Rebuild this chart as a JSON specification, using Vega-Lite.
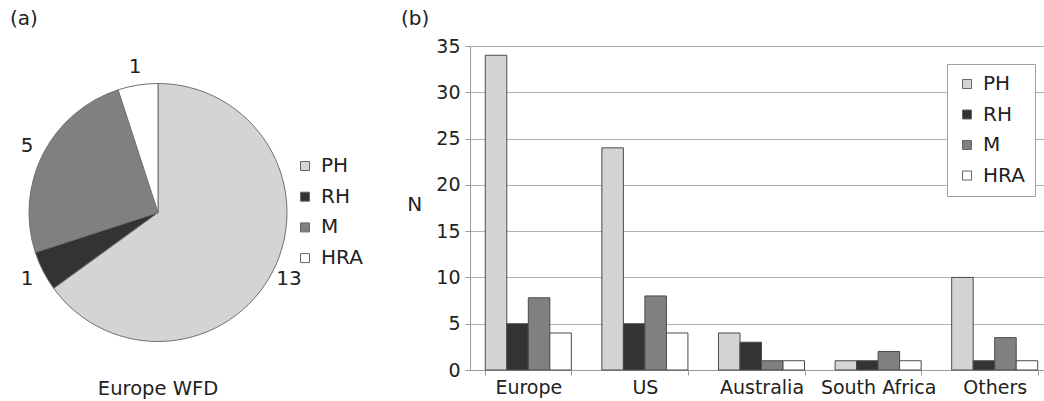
{
  "$schema": "https://vega.github.io/schema/vega-lite/v6.json",
  "padding": {"left": 0, "top": 9, "right": 0, "bottom": 0},
  "background": "white",
  "config": {
    "font": "DejaVu Sans",
    "view": {"stroke": null},
    "title": {"fontSize": 20, "fontWeight": "normal", "color": "#222", "anchor": "start"}
  },
  "datasets": {
    "pie": [
      {"group": "Europe WFD", "type": "PH", "n": 13, "ord": 1},
      {"group": "Europe WFD", "type": "RH", "n": 1, "ord": 2},
      {"group": "Europe WFD", "type": "M", "n": 5, "ord": 3},
      {"group": "Europe WFD", "type": "HRA", "n": 1, "ord": 4}
    ],
    "bars": [
      {"region": "Europe", "type": "PH", "n": 34},
      {"region": "Europe", "type": "RH", "n": 5},
      {"region": "Europe", "type": "M", "n": 7.8},
      {"region": "Europe", "type": "HRA", "n": 4},
      {"region": "US", "type": "PH", "n": 24},
      {"region": "US", "type": "RH", "n": 5},
      {"region": "US", "type": "M", "n": 8},
      {"region": "US", "type": "HRA", "n": 4},
      {"region": "Australia", "type": "PH", "n": 4},
      {"region": "Australia", "type": "RH", "n": 3},
      {"region": "Australia", "type": "M", "n": 1},
      {"region": "Australia", "type": "HRA", "n": 1},
      {"region": "South Africa", "type": "PH", "n": 1},
      {"region": "South Africa", "type": "RH", "n": 1},
      {"region": "South Africa", "type": "M", "n": 2},
      {"region": "South Africa", "type": "HRA", "n": 1},
      {"region": "Others", "type": "PH", "n": 10},
      {"region": "Others", "type": "RH", "n": 1},
      {"region": "Others", "type": "M", "n": 3.5},
      {"region": "Others", "type": "HRA", "n": 1}
    ]
  },
  "spacing": 38,
  "resolve": {"scale": {"color": "independent"}, "legend": {"color": "independent"}},
  "hconcat": [
    {
      "data": {"name": "pie"},
      "title": {"text": "(a)", "dx": 10, "offset": 16.7},
      "facet": {
        "column": {
          "field": "group", "type": "nominal",
          "header": {"title": null, "labelOrient": "bottom", "labelFontSize": 19.5, "labelPadding": 1, "labelColor": "#222", "labelFont": "DejaVu Sans"}
        }
      },
      "spec": {
        "width": 316,
        "height": 333,
        "encoding": {
          "theta": {"field": "n", "type": "quantitative", "stack": true},
          "order": {"field": "ord", "type": "quantitative"}
        },
        "layer": [
          {
            "mark": {"type": "arc", "outerRadius": 129, "stroke": "#707070", "strokeWidth": 1},
            "encoding": {
              "color": {
                "field": "type", "type": "nominal",
                "scale": {"domain": ["PH", "RH", "M", "HRA"], "range": ["#d4d4d4", "#333333", "#808080", "#ffffff"]},
                "legend": {
                  "title": null, "orient": "none", "legendX": 295, "legendY": 110, "padding": 0,
                  "labelFontSize": 20, "labelColor": "#222", "symbolType": "square", "symbolSize": 81,
                  "symbolStrokeColor": "#666", "symbolStrokeWidth": 1, "rowPadding": 10.7, "labelOffset": 6
                }
              }
            }
          },
          {
            "mark": {"type": "text", "radius": 147, "fontSize": 20, "color": "#222"},
            "encoding": {"text": {"field": "n", "type": "quantitative"}}
          }
        ]
      }
    },
    {
      "data": {"name": "bars"},
      "title": {"text": "(b)", "dx": -69, "frame": "group", "offset": 8},
      "width": 583,
      "height": 324,
      "mark": {"type": "bar", "stroke": "#4a4a4a", "strokeWidth": 1},
      "encoding": {
        "x": {
          "field": "region", "type": "nominal",
          "sort": ["Europe", "US", "Australia", "South Africa", "Others"],
          "scale": {"paddingInner": 0.262, "paddingOuter": 0.131},
          "axis": {
            "title": null, "labelAngle": 0, "tickBand": "extent", "labelFontSize": 19, "labelColor": "#222",
            "domainColor": "#9a9a9a", "tickColor": "#9a9a9a", "tickSize": 5, "labelPadding": 3, "grid": false
          }
        },
        "xOffset": {
          "field": "type", "type": "nominal", "sort": ["PH", "RH", "M", "HRA"],
          "scale": {"paddingInner": 0, "paddingOuter": 0}
        },
        "y": {
          "field": "n", "type": "quantitative",
          "scale": {"domain": [0, 35], "nice": false},
          "axis": {
            "values": [0, 5, 10, 15, 20, 25, 30, 35], "title": "N", "titleAngle": 0, "titleAlign": "right",
            "titleBaseline": "middle", "titlePadding": 14, "titleY": 158, "titleFontSize": 20, "titleFontWeight": "normal",
            "titleColor": "#222", "labelFontSize": 19, "labelColor": "#222", "labelPadding": 5, "tickSize": 5,
            "tickColor": "#9a9a9a", "domainColor": "#9a9a9a", "gridColor": "#b0b0b0", "gridWidth": 1
          }
        },
        "color": {
          "field": "type", "type": "nominal",
          "scale": {"domain": ["PH", "RH", "M", "HRA"], "range": ["#d4d4d4", "#333333", "#808080", "#ffffff"]},
          "legend": {
            "title": null, "orient": "none", "legendX": 477, "legendY": 18, "padding": 10,
            "strokeColor": "#a0a0a0", "fillColor": "white",
            "labelFontSize": 20, "labelColor": "#222", "symbolType": "square", "symbolSize": 81,
            "symbolStrokeColor": "#666", "symbolStrokeWidth": 1, "rowPadding": 10.5, "labelOffset": 6
          }
        }
      }
    }
  ]
}
